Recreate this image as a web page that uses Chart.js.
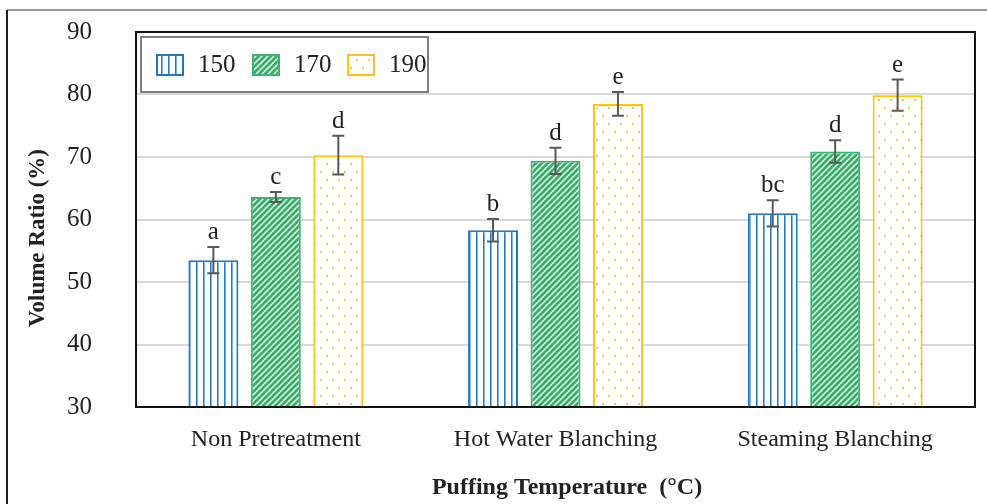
<!DOCTYPE html>
<html>
<head>
<meta charset="utf-8">
<script src="https://cdn.jsdelivr.net/npm/chart.js@4.4.1/dist/chart.umd.min.js"></script>
<style>
  html, body { margin: 0; padding: 0; background: #fff; }
  #wrap { width: 987px; height: 504px; position: relative; }
</style>
</head>
<body>
<div id="wrap"><canvas id="chart"></canvas></div>
<script>
var categories = ['Non Pretreatment', 'Hot Water Blanching', 'Steaming Blanching'];
var seriesNames = ['150', '170', '190'];
var v150 = [53.5, 58.3, 61.0];
var v170 = [63.6, 69.4, 70.9];
var v190 = [70.3, 78.5, 79.9];
var err150 = [2.1, 1.8, 2.1];
var err170 = [0.8, 2.1, 1.8];
var err190 = [3.1, 1.9, 2.5];
var let150 = ['a', 'b', 'bc'];
var let170 = ['c', 'd', 'd'];
var let190 = ['d', 'e', 'e'];
var yTicks = [30, 40, 50, 60, 70, 80, 90];

var serif = "'Liberation Serif', 'Times New Roman', serif";
var textColor = '#222';

function makeTile(w, h, draw) {
  var c = document.createElement('canvas');
  c.width = w; c.height = h;
  draw(c.getContext('2d'));
  return document.createElement('canvas').getContext('2d').createPattern(c, 'repeat');
}

// vertical blue stripes
var bluePat = makeTile(7, 4, function(g) {
  g.fillStyle = '#fff'; g.fillRect(0, 0, 7, 4);
  g.fillStyle = '#2277c6'; g.fillRect(0, 0, 1, 4);
  g.fillStyle = '#7fb3e3'; g.fillRect(1, 0, 1, 4);
});
// green with white diagonal lines
var greenPat = makeTile(6, 6, function(g) {
  g.fillStyle = '#36b066'; g.fillRect(0, 0, 6, 6);
  g.strokeStyle = '#ffffff'; g.lineWidth = 1.4;
  g.beginPath();
  g.moveTo(-1, 7); g.lineTo(7, -1);
  g.moveTo(-1, 1); g.lineTo(1, -1);
  g.moveTo(5, 7); g.lineTo(7, 5);
  g.stroke();
});
// white with yellow dots
var yellowPat = makeTile(12, 16, function(g) {
  g.fillStyle = '#fff'; g.fillRect(0, 0, 12, 16);
  g.fillStyle = '#ffc83a';
  g.fillRect(2, 3, 2, 2);
  g.fillRect(8, 11, 2, 2);
});

var fills = [bluePat, greenPat, yellowPat];
var borders = ['#2277c6', '#3cb46e', '#ffc20e'];
var values = [v150, v170, v190];
var errors = [err150, err170, err190];
var letters = [let150, let170, let190];

var datasets = seriesNames.map(function(name, i) {
  return {
    label: name,
    data: values[i],
    backgroundColor: fills[i],
    borderColor: borders[i],
    borderWidth: 2,
    barPercentage: 0.8,
    categoryPercentage: 0.67
  };
});

var extras = {
  id: 'extras',
  beforeDraw: function(chart) {
    var ctx = chart.ctx;
    ctx.save();
    ctx.lineWidth = 2;
    ctx.strokeStyle = '#9a9a9a';
    ctx.beginPath(); ctx.moveTo(7, 10); ctx.lineTo(987, 10); ctx.stroke();
    ctx.strokeStyle = '#222';
    ctx.beginPath(); ctx.moveTo(7, 10); ctx.lineTo(7, 504); ctx.stroke();
    ctx.restore();
  },
  afterDatasetsDraw: function(chart) {
    var ctx = chart.ctx;
    var y = chart.scales.y;
    ctx.save();
    chart.data.datasets.forEach(function(ds, i) {
      var meta = chart.getDatasetMeta(i);
      meta.data.forEach(function(bar, j) {
        var v = ds.data[j], e = errors[i][j];
        var top = y.getPixelForValue(v + e), bot = y.getPixelForValue(v - e);
        ctx.strokeStyle = '#595959';
        ctx.lineWidth = 2;
        ctx.beginPath();
        ctx.moveTo(bar.x, top); ctx.lineTo(bar.x, bot);
        ctx.moveTo(bar.x - 6, top); ctx.lineTo(bar.x + 6, top);
        ctx.moveTo(bar.x - 6, bot); ctx.lineTo(bar.x + 6, bot);
        ctx.stroke();
        ctx.fillStyle = textColor;
        ctx.font = '25px ' + serif;
        ctx.textAlign = 'center';
        ctx.textBaseline = 'alphabetic';
        ctx.fillText(letters[i][j], bar.x, top - 8);
      });
    });
    // plot frame
    var a = chart.chartArea;
    ctx.strokeStyle = '#111';
    ctx.lineWidth = 2;
    ctx.strokeRect(a.left, a.top, a.right - a.left, a.bottom - a.top);
    // legend
    ctx.fillStyle = '#fff';
    ctx.fillRect(141, 37, 287, 55);
    ctx.strokeStyle = '#808080';
    ctx.strokeRect(141, 37, 287, 55);
    var sx = [156, 252, 347];
    seriesNames.forEach(function(name, i) {
      ctx.fillStyle = fills[i];
      ctx.fillRect(sx[i], 54, 28, 22);
      ctx.strokeStyle = borders[i];
      ctx.lineWidth = 2;
      ctx.strokeRect(sx[i] + 1, 55, 26, 20);
      ctx.fillStyle = textColor;
      ctx.font = '25px ' + serif;
      ctx.textAlign = 'left';
      ctx.textBaseline = 'alphabetic';
      ctx.fillText(name, sx[i] + 42, 72);
    });
    // axis titles
    ctx.fillStyle = textColor;
    ctx.font = 'bold 24px ' + serif;
    ctx.textAlign = 'center';
    ctx.fillText('Puffing Temperature  (\u00b0C)', 567, 494);
    ctx.translate(38, 238);
    ctx.rotate(-Math.PI / 2);
    ctx.font = 'bold 23px ' + serif;
    ctx.textBaseline = 'middle';
    ctx.fillText('Volume Ratio (%)', 0, 0);
    ctx.restore();
  }
};

new Chart(document.getElementById('chart'), {
  type: 'bar',
  data: { labels: categories, datasets: datasets },
  options: {
    responsive: true,
    maintainAspectRatio: false,
    animation: false,
    layout: { padding: { top: 32, right: 12, left: 0, bottom: 0 } },
    plugins: { legend: { display: false }, tooltip: { enabled: false } },
    scales: {
      x: {
        afterFit: function(s) { s.height = 97; s.paddingLeft = 0; s.paddingRight = 0; },
        grid: { display: false },
        border: { display: false },
        ticks: { color: textColor, font: { family: serif, size: 24 }, padding: 10 }
      },
      y: {
        min: 30, max: 90,
        afterFit: function(s) { s.width = 136; s.paddingTop = 0; s.paddingBottom = 0; },
        afterBuildTicks: function(s) { s.ticks = yTicks.map(function(v) { return { value: v }; }); },
        grid: {
          color: function(c) { return (c.tick.value === 30 || c.tick.value === 90) ? 'rgba(0,0,0,0)' : '#d9d9d9'; },
          lineWidth: 2,
          drawTicks: false
        },
        border: { display: false },
        ticks: { color: textColor, font: { family: serif, size: 25 }, padding: 44 }
      }
    }
  },
  plugins: [extras]
});
</script>
</body>
</html>
